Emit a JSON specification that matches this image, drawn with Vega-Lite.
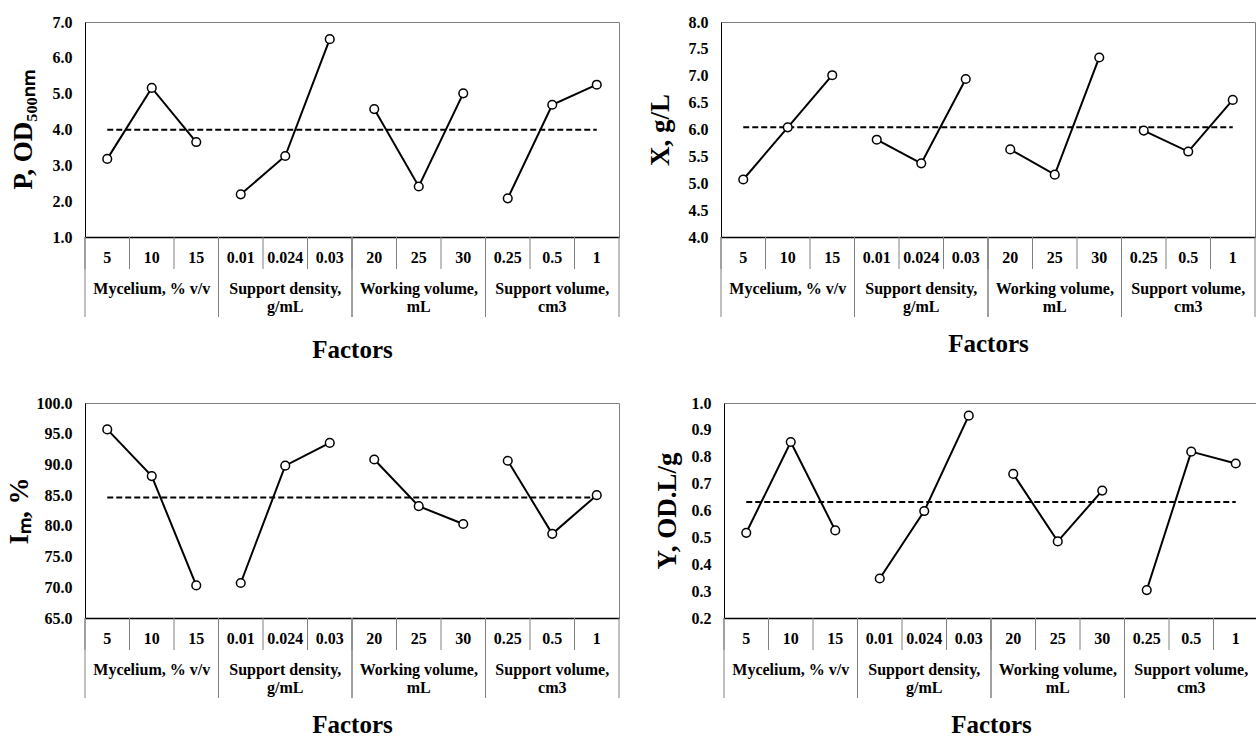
{
 "$schema": "https://vega.github.io/schema/vega-lite/v6.json",
 "padding": {"left": 4, "top": 13, "right": 0, "bottom": 0},
 "background": "white",
 "config": {
  "view": {"stroke": "#7f7f7f", "strokeWidth": 1},
  "axis": {"labelFont": "Liberation Serif", "labelFontSize": 16, "labelFontWeight": "bold", "labelColor": "black", "titleFont": "Liberation Serif", "titleFontWeight": "bold", "titleColor": "black", "grid": false, "ticks": false}
 },
 "datasets": {
  "pts": [
   {"panel": "P", "group": "Mycelium", "level": "5", "value": 3.18},
   {"panel": "P", "group": "Mycelium", "level": "10", "value": 5.16},
   {"panel": "P", "group": "Mycelium", "level": "15", "value": 3.65},
   {"panel": "P", "group": "Density", "level": "0.01", "value": 2.19},
   {"panel": "P", "group": "Density", "level": "0.024", "value": 3.26},
   {"panel": "P", "group": "Density", "level": "0.03", "value": 6.52},
   {"panel": "P", "group": "Working", "level": "20", "value": 4.57},
   {"panel": "P", "group": "Working", "level": "25", "value": 2.41},
   {"panel": "P", "group": "Working", "level": "30", "value": 5.01},
   {"panel": "P", "group": "Support", "level": "0.25", "value": 2.08},
   {"panel": "P", "group": "Support", "level": "0.5", "value": 4.69},
   {"panel": "P", "group": "Support", "level": "1", "value": 5.25},
   {"panel": "X", "group": "Mycelium", "level": "5", "value": 5.07},
   {"panel": "X", "group": "Mycelium", "level": "10", "value": 6.04},
   {"panel": "X", "group": "Mycelium", "level": "15", "value": 7.01},
   {"panel": "X", "group": "Density", "level": "0.01", "value": 5.81},
   {"panel": "X", "group": "Density", "level": "0.024", "value": 5.37},
   {"panel": "X", "group": "Density", "level": "0.03", "value": 6.94},
   {"panel": "X", "group": "Working", "level": "20", "value": 5.63},
   {"panel": "X", "group": "Working", "level": "25", "value": 5.16},
   {"panel": "X", "group": "Working", "level": "30", "value": 7.34},
   {"panel": "X", "group": "Support", "level": "0.25", "value": 5.98},
   {"panel": "X", "group": "Support", "level": "0.5", "value": 5.59},
   {"panel": "X", "group": "Support", "level": "1", "value": 6.55},
   {"panel": "I", "group": "Mycelium", "level": "5", "value": 95.7},
   {"panel": "I", "group": "Mycelium", "level": "10", "value": 88.1},
   {"panel": "I", "group": "Mycelium", "level": "15", "value": 70.3},
   {"panel": "I", "group": "Density", "level": "0.01", "value": 70.7},
   {"panel": "I", "group": "Density", "level": "0.024", "value": 89.8},
   {"panel": "I", "group": "Density", "level": "0.03", "value": 93.5},
   {"panel": "I", "group": "Working", "level": "20", "value": 90.8},
   {"panel": "I", "group": "Working", "level": "25", "value": 83.2},
   {"panel": "I", "group": "Working", "level": "30", "value": 80.3},
   {"panel": "I", "group": "Support", "level": "0.25", "value": 90.6},
   {"panel": "I", "group": "Support", "level": "0.5", "value": 78.7},
   {"panel": "I", "group": "Support", "level": "1", "value": 85.0},
   {"panel": "Y", "group": "Mycelium", "level": "5", "value": 0.517},
   {"panel": "Y", "group": "Mycelium", "level": "10", "value": 0.855},
   {"panel": "Y", "group": "Mycelium", "level": "15", "value": 0.526},
   {"panel": "Y", "group": "Density", "level": "0.01", "value": 0.347},
   {"panel": "Y", "group": "Density", "level": "0.024", "value": 0.598},
   {"panel": "Y", "group": "Density", "level": "0.03", "value": 0.953},
   {"panel": "Y", "group": "Working", "level": "20", "value": 0.736},
   {"panel": "Y", "group": "Working", "level": "25", "value": 0.485},
   {"panel": "Y", "group": "Working", "level": "30", "value": 0.674},
   {"panel": "Y", "group": "Support", "level": "0.25", "value": 0.304},
   {"panel": "Y", "group": "Support", "level": "0.5", "value": 0.819},
   {"panel": "Y", "group": "Support", "level": "1", "value": 0.775}
  ],
  "means": [
   {"panel": "P", "level": "5", "value": 3.99}, {"panel": "P", "level": "1", "value": 3.99},
   {"panel": "X", "level": "5", "value": 6.04}, {"panel": "X", "level": "1", "value": 6.04},
   {"panel": "I", "level": "5", "value": 84.6}, {"panel": "I", "level": "1", "value": 84.6},
   {"panel": "Y", "level": "5", "value": 0.632}, {"panel": "Y", "level": "1", "value": 0.632}
  ],
  "levels": [
   {"level": "5"}, {"level": "10"}, {"level": "15"}, {"level": "0.01"}, {"level": "0.024"}, {"level": "0.03"},
   {"level": "20"}, {"level": "25"}, {"level": "30"}, {"level": "0.25"}, {"level": "0.5"}, {"level": "1"}
  ],
  "groups": [
   {"first": "5", "mid": "10", "last": "15", "label": ["Mycelium, % v/v"]},
   {"first": "0.01", "mid": "0.024", "last": "0.03", "label": ["Support density,", "g/mL"]},
   {"first": "20", "mid": "25", "last": "30", "label": ["Working volume,", "mL"]},
   {"first": "0.25", "mid": "0.5", "last": "1", "label": ["Support volume,", "cm3"]}
  ]
 },
 "columns": 1,
 "align": "none",
 "spacing": 32,
 "concat": [
  {"hconcat": [
   {"vconcat": [
    {"width": 534, "height": 215,
     "layer": [
      {"data": {"name": "means"}, "transform": [{"filter": "datum.panel === 'P'"}],
       "mark": {"type": "line", "color": "black", "strokeWidth": 2, "strokeDash": [6, 3]},
       "encoding": {
        "x": {"field": "level", "type": "nominal", "scale": {"type": "band", "domain": ["5","10","15","0.01","0.024","0.03","20","25","30","0.25","0.5","1"], "paddingInner": 0, "paddingOuter": 0}, "axis": {"labels": false, "ticks": false, "title": null, "domainColor": "black", "domainWidth": 1.5}},
        "y": {"field": "value", "type": "quantitative", "scale": {"domain": [1, 7], "nice": false, "zero": false}, "axis": {"values": [1,2,3,4,5,6,7], "format": ".1f", "title": "P, OD₅₀₀ₙₘ", "titleFontSize": 27, "titlePadding": 15, "labelPadding": 13, "domainColor": "black"}},
        "order": {"value": null}}},
      {"data": {"name": "pts"}, "transform": [{"filter": "datum.panel === 'P'"}],
       "mark": {"type": "line", "color": "black", "strokeWidth": 2},
       "encoding": {
        "x": {"field": "level", "type": "nominal", "scale": {"type": "band", "domain": ["5","10","15","0.01","0.024","0.03","20","25","30","0.25","0.5","1"], "paddingInner": 0, "paddingOuter": 0}, "axis": {"labels": false, "ticks": false, "title": null, "domainColor": "black", "domainWidth": 1.5}},
        "y": {"field": "value", "type": "quantitative", "scale": {"domain": [1, 7], "nice": false, "zero": false}, "axis": {"values": [1,2,3,4,5,6,7], "format": ".1f", "title": "P, OD₅₀₀ₙₘ", "titleFontSize": 27, "titlePadding": 15, "labelPadding": 13, "domainColor": "black"}},
        "detail": {"field": "group"}, "order": {"value": null}}},
      {"data": {"name": "pts"}, "transform": [{"filter": "datum.panel === 'P'"}],
       "mark": {"type": "point", "shape": "circle", "filled": true, "fill": "white", "stroke": "black", "strokeWidth": 1.5, "size": 75, "opacity": 1},
       "encoding": {
        "x": {"field": "level", "type": "nominal", "scale": {"type": "band", "domain": ["5","10","15","0.01","0.024","0.03","20","25","30","0.25","0.5","1"], "paddingInner": 0, "paddingOuter": 0}, "axis": {"labels": false, "ticks": false, "title": null, "domainColor": "black", "domainWidth": 1.5}},
        "y": {"field": "value", "type": "quantitative", "scale": {"domain": [1, 7], "nice": false, "zero": false}, "axis": {"values": [1,2,3,4,5,6,7], "format": ".1f", "title": "P, OD₅₀₀ₙₘ", "titleFontSize": 27, "titlePadding": 15, "labelPadding": 13, "domainColor": "black"}}}}
     ]},
    {"width": 534, "height": 80, "view": {"stroke": null},
     "layer": [
      {"data": {"name": "levels"}, "mark": {"type": "rule", "color": "#808080", "strokeWidth": 1},
       "encoding": {
        "x": {"field": "level", "type": "nominal", "bandPosition": 0, "scale": {"type": "band", "domain": ["5","10","15","0.01","0.024","0.03","20","25","30","0.25","0.5","1"], "paddingInner": 0, "paddingOuter": 0}, "axis": {"labels": false, "ticks": false, "domain": false, "title": "Factors", "titleFontSize": 25, "titlePadding": 20}},
        "y": {"datum": 0, "type": "quantitative", "scale": {"domain": [0, 2.5], "reverse": true, "nice": false, "zero": false}, "axis": null},
        "y2": {"datum": 1}}},
      {"data": {"name": "groups"}, "mark": {"type": "rule", "color": "#808080", "strokeWidth": 1},
       "encoding": {
        "x": {"field": "first", "type": "nominal", "bandPosition": 0, "scale": {"type": "band", "domain": ["5","10","15","0.01","0.024","0.03","20","25","30","0.25","0.5","1"], "paddingInner": 0, "paddingOuter": 0}, "axis": {"labels": false, "ticks": false, "domain": false, "title": "Factors", "titleFontSize": 25, "titlePadding": 20}},
        "y": {"datum": 0, "type": "quantitative", "scale": {"domain": [0, 2.5], "reverse": true, "nice": false, "zero": false}, "axis": null},
        "y2": {"datum": 2.5}}},
      {"data": {"name": "groups"}, "mark": {"type": "rule", "color": "#808080", "strokeWidth": 1},
       "encoding": {
        "x": {"field": "last", "type": "nominal", "bandPosition": 1, "scale": {"type": "band", "domain": ["5","10","15","0.01","0.024","0.03","20","25","30","0.25","0.5","1"], "paddingInner": 0, "paddingOuter": 0}, "axis": {"labels": false, "ticks": false, "domain": false, "title": "Factors", "titleFontSize": 25, "titlePadding": 20}},
        "y": {"datum": 0, "type": "quantitative", "scale": {"domain": [0, 2.5], "reverse": true, "nice": false, "zero": false}, "axis": null},
        "y2": {"datum": 2.5}}},
      {"data": {"name": "levels"}, "mark": {"type": "text", "font": "Liberation Serif", "fontSize": 16, "fontWeight": "bold", "color": "black", "baseline": "middle"},
       "encoding": {
        "x": {"field": "level", "type": "nominal", "scale": {"type": "band", "domain": ["5","10","15","0.01","0.024","0.03","20","25","30","0.25","0.5","1"], "paddingInner": 0, "paddingOuter": 0}, "axis": {"labels": false, "ticks": false, "domain": false, "title": "Factors", "titleFontSize": 25, "titlePadding": 20}},
        "y": {"datum": 0.66, "type": "quantitative", "scale": {"domain": [0, 2.5], "reverse": true, "nice": false, "zero": false}, "axis": null},
        "text": {"field": "level"}}},
      {"data": {"name": "groups"}, "mark": {"type": "text", "font": "Liberation Serif", "fontSize": 16, "fontWeight": "bold", "color": "black", "baseline": "top", "lineHeight": 18},
       "encoding": {
        "x": {"field": "mid", "type": "nominal", "scale": {"type": "band", "domain": ["5","10","15","0.01","0.024","0.03","20","25","30","0.25","0.5","1"], "paddingInner": 0, "paddingOuter": 0}, "axis": {"labels": false, "ticks": false, "domain": false, "title": "Factors", "titleFontSize": 25, "titlePadding": 20}},
        "y": {"datum": 1.375, "type": "quantitative", "scale": {"domain": [0, 2.5], "reverse": true, "nice": false, "zero": false}, "axis": null},
        "text": {"field": "label"}}}
     ]}
   ], "spacing": 0, "bounds": "flush"},
   {"vconcat": [
    {"width": 534, "height": 215,
     "layer": [
      {"data": {"name": "means"}, "transform": [{"filter": "datum.panel === 'X'"}],
       "mark": {"type": "line", "color": "black", "strokeWidth": 2, "strokeDash": [6, 3]},
       "encoding": {
        "x": {"field": "level", "type": "nominal", "scale": {"type": "band", "domain": ["5","10","15","0.01","0.024","0.03","20","25","30","0.25","0.5","1"], "paddingInner": 0, "paddingOuter": 0}, "axis": {"labels": false, "ticks": false, "title": null, "domainColor": "black", "domainWidth": 1.5}},
        "y": {"field": "value", "type": "quantitative", "scale": {"domain": [4, 8], "nice": false, "zero": false}, "axis": {"values": [4,4.5,5,5.5,6,6.5,7,7.5,8], "format": ".1f", "title": "X, g/L", "titleFontSize": 27, "titlePadding": 14, "labelPadding": 13, "domainColor": "black"}},
        "order": {"value": null}}},
      {"data": {"name": "pts"}, "transform": [{"filter": "datum.panel === 'X'"}],
       "mark": {"type": "line", "color": "black", "strokeWidth": 2},
       "encoding": {
        "x": {"field": "level", "type": "nominal", "scale": {"type": "band", "domain": ["5","10","15","0.01","0.024","0.03","20","25","30","0.25","0.5","1"], "paddingInner": 0, "paddingOuter": 0}, "axis": {"labels": false, "ticks": false, "title": null, "domainColor": "black", "domainWidth": 1.5}},
        "y": {"field": "value", "type": "quantitative", "scale": {"domain": [4, 8], "nice": false, "zero": false}, "axis": {"values": [4,4.5,5,5.5,6,6.5,7,7.5,8], "format": ".1f", "title": "X, g/L", "titleFontSize": 27, "titlePadding": 14, "labelPadding": 13, "domainColor": "black"}},
        "detail": {"field": "group"}, "order": {"value": null}}},
      {"data": {"name": "pts"}, "transform": [{"filter": "datum.panel === 'X'"}],
       "mark": {"type": "point", "shape": "circle", "filled": true, "fill": "white", "stroke": "black", "strokeWidth": 1.5, "size": 75, "opacity": 1},
       "encoding": {
        "x": {"field": "level", "type": "nominal", "scale": {"type": "band", "domain": ["5","10","15","0.01","0.024","0.03","20","25","30","0.25","0.5","1"], "paddingInner": 0, "paddingOuter": 0}, "axis": {"labels": false, "ticks": false, "title": null, "domainColor": "black", "domainWidth": 1.5}},
        "y": {"field": "value", "type": "quantitative", "scale": {"domain": [4, 8], "nice": false, "zero": false}, "axis": {"values": [4,4.5,5,5.5,6,6.5,7,7.5,8], "format": ".1f", "title": "X, g/L", "titleFontSize": 27, "titlePadding": 14, "labelPadding": 13, "domainColor": "black"}}}}
     ]},
    {"width": 534, "height": 80, "view": {"stroke": null},
     "layer": [
      {"data": {"name": "levels"}, "mark": {"type": "rule", "color": "#808080", "strokeWidth": 1},
       "encoding": {
        "x": {"field": "level", "type": "nominal", "bandPosition": 0, "scale": {"type": "band", "domain": ["5","10","15","0.01","0.024","0.03","20","25","30","0.25","0.5","1"], "paddingInner": 0, "paddingOuter": 0}, "axis": {"labels": false, "ticks": false, "domain": false, "title": "Factors", "titleFontSize": 25, "titlePadding": 14}},
        "y": {"datum": 0, "type": "quantitative", "scale": {"domain": [0, 2.5], "reverse": true, "nice": false, "zero": false}, "axis": null},
        "y2": {"datum": 1}}},
      {"data": {"name": "groups"}, "mark": {"type": "rule", "color": "#808080", "strokeWidth": 1},
       "encoding": {
        "x": {"field": "first", "type": "nominal", "bandPosition": 0, "scale": {"type": "band", "domain": ["5","10","15","0.01","0.024","0.03","20","25","30","0.25","0.5","1"], "paddingInner": 0, "paddingOuter": 0}, "axis": {"labels": false, "ticks": false, "domain": false, "title": "Factors", "titleFontSize": 25, "titlePadding": 14}},
        "y": {"datum": 0, "type": "quantitative", "scale": {"domain": [0, 2.5], "reverse": true, "nice": false, "zero": false}, "axis": null},
        "y2": {"datum": 2.5}}},
      {"data": {"name": "groups"}, "mark": {"type": "rule", "color": "#808080", "strokeWidth": 1},
       "encoding": {
        "x": {"field": "last", "type": "nominal", "bandPosition": 1, "scale": {"type": "band", "domain": ["5","10","15","0.01","0.024","0.03","20","25","30","0.25","0.5","1"], "paddingInner": 0, "paddingOuter": 0}, "axis": {"labels": false, "ticks": false, "domain": false, "title": "Factors", "titleFontSize": 25, "titlePadding": 14}},
        "y": {"datum": 0, "type": "quantitative", "scale": {"domain": [0, 2.5], "reverse": true, "nice": false, "zero": false}, "axis": null},
        "y2": {"datum": 2.5}}},
      {"data": {"name": "levels"}, "mark": {"type": "text", "font": "Liberation Serif", "fontSize": 16, "fontWeight": "bold", "color": "black", "baseline": "middle"},
       "encoding": {
        "x": {"field": "level", "type": "nominal", "scale": {"type": "band", "domain": ["5","10","15","0.01","0.024","0.03","20","25","30","0.25","0.5","1"], "paddingInner": 0, "paddingOuter": 0}, "axis": {"labels": false, "ticks": false, "domain": false, "title": "Factors", "titleFontSize": 25, "titlePadding": 14}},
        "y": {"datum": 0.66, "type": "quantitative", "scale": {"domain": [0, 2.5], "reverse": true, "nice": false, "zero": false}, "axis": null},
        "text": {"field": "level"}}},
      {"data": {"name": "groups"}, "mark": {"type": "text", "font": "Liberation Serif", "fontSize": 16, "fontWeight": "bold", "color": "black", "baseline": "top", "lineHeight": 18},
       "encoding": {
        "x": {"field": "mid", "type": "nominal", "scale": {"type": "band", "domain": ["5","10","15","0.01","0.024","0.03","20","25","30","0.25","0.5","1"], "paddingInner": 0, "paddingOuter": 0}, "axis": {"labels": false, "ticks": false, "domain": false, "title": "Factors", "titleFontSize": 25, "titlePadding": 14}},
        "y": {"datum": 1.375, "type": "quantitative", "scale": {"domain": [0, 2.5], "reverse": true, "nice": false, "zero": false}, "axis": null},
        "text": {"field": "label"}}}
     ]}
   ], "spacing": 0, "bounds": "flush"}
  ], "spacing": 25},
  {"hconcat": [
   {"vconcat": [
    {"width": 534, "height": 215,
     "layer": [
      {"data": {"name": "means"}, "transform": [{"filter": "datum.panel === 'I'"}],
       "mark": {"type": "line", "color": "black", "strokeWidth": 2, "strokeDash": [6, 3]},
       "encoding": {
        "x": {"field": "level", "type": "nominal", "scale": {"type": "band", "domain": ["5","10","15","0.01","0.024","0.03","20","25","30","0.25","0.5","1"], "paddingInner": 0, "paddingOuter": 0}, "axis": {"labels": false, "ticks": false, "title": null, "domainColor": "black", "domainWidth": 1.5}},
        "y": {"field": "value", "type": "quantitative", "scale": {"domain": [65, 100], "nice": false, "zero": false}, "axis": {"values": [65,70,75,80,85,90,95,100], "format": ".1f", "title": "Iₘ, %", "titleFontSize": 27, "titlePadding": 3, "labelPadding": 13, "domainColor": "black"}},
        "order": {"value": null}}},
      {"data": {"name": "pts"}, "transform": [{"filter": "datum.panel === 'I'"}],
       "mark": {"type": "line", "color": "black", "strokeWidth": 2},
       "encoding": {
        "x": {"field": "level", "type": "nominal", "scale": {"type": "band", "domain": ["5","10","15","0.01","0.024","0.03","20","25","30","0.25","0.5","1"], "paddingInner": 0, "paddingOuter": 0}, "axis": {"labels": false, "ticks": false, "title": null, "domainColor": "black", "domainWidth": 1.5}},
        "y": {"field": "value", "type": "quantitative", "scale": {"domain": [65, 100], "nice": false, "zero": false}, "axis": {"values": [65,70,75,80,85,90,95,100], "format": ".1f", "title": "Iₘ, %", "titleFontSize": 27, "titlePadding": 3, "labelPadding": 13, "domainColor": "black"}},
        "detail": {"field": "group"}, "order": {"value": null}}},
      {"data": {"name": "pts"}, "transform": [{"filter": "datum.panel === 'I'"}],
       "mark": {"type": "point", "shape": "circle", "filled": true, "fill": "white", "stroke": "black", "strokeWidth": 1.5, "size": 75, "opacity": 1},
       "encoding": {
        "x": {"field": "level", "type": "nominal", "scale": {"type": "band", "domain": ["5","10","15","0.01","0.024","0.03","20","25","30","0.25","0.5","1"], "paddingInner": 0, "paddingOuter": 0}, "axis": {"labels": false, "ticks": false, "title": null, "domainColor": "black", "domainWidth": 1.5}},
        "y": {"field": "value", "type": "quantitative", "scale": {"domain": [65, 100], "nice": false, "zero": false}, "axis": {"values": [65,70,75,80,85,90,95,100], "format": ".1f", "title": "Iₘ, %", "titleFontSize": 27, "titlePadding": 3, "labelPadding": 13, "domainColor": "black"}}}}
     ]},
    {"width": 534, "height": 80, "view": {"stroke": null},
     "layer": [
      {"data": {"name": "levels"}, "mark": {"type": "rule", "color": "#808080", "strokeWidth": 1},
       "encoding": {
        "x": {"field": "level", "type": "nominal", "bandPosition": 0, "scale": {"type": "band", "domain": ["5","10","15","0.01","0.024","0.03","20","25","30","0.25","0.5","1"], "paddingInner": 0, "paddingOuter": 0}, "axis": {"labels": false, "ticks": false, "domain": false, "title": "Factors", "titleFontSize": 25, "titlePadding": 14}},
        "y": {"datum": 0, "type": "quantitative", "scale": {"domain": [0, 2.5], "reverse": true, "nice": false, "zero": false}, "axis": null},
        "y2": {"datum": 1}}},
      {"data": {"name": "groups"}, "mark": {"type": "rule", "color": "#808080", "strokeWidth": 1},
       "encoding": {
        "x": {"field": "first", "type": "nominal", "bandPosition": 0, "scale": {"type": "band", "domain": ["5","10","15","0.01","0.024","0.03","20","25","30","0.25","0.5","1"], "paddingInner": 0, "paddingOuter": 0}, "axis": {"labels": false, "ticks": false, "domain": false, "title": "Factors", "titleFontSize": 25, "titlePadding": 14}},
        "y": {"datum": 0, "type": "quantitative", "scale": {"domain": [0, 2.5], "reverse": true, "nice": false, "zero": false}, "axis": null},
        "y2": {"datum": 2.5}}},
      {"data": {"name": "groups"}, "mark": {"type": "rule", "color": "#808080", "strokeWidth": 1},
       "encoding": {
        "x": {"field": "last", "type": "nominal", "bandPosition": 1, "scale": {"type": "band", "domain": ["5","10","15","0.01","0.024","0.03","20","25","30","0.25","0.5","1"], "paddingInner": 0, "paddingOuter": 0}, "axis": {"labels": false, "ticks": false, "domain": false, "title": "Factors", "titleFontSize": 25, "titlePadding": 14}},
        "y": {"datum": 0, "type": "quantitative", "scale": {"domain": [0, 2.5], "reverse": true, "nice": false, "zero": false}, "axis": null},
        "y2": {"datum": 2.5}}},
      {"data": {"name": "levels"}, "mark": {"type": "text", "font": "Liberation Serif", "fontSize": 16, "fontWeight": "bold", "color": "black", "baseline": "middle"},
       "encoding": {
        "x": {"field": "level", "type": "nominal", "scale": {"type": "band", "domain": ["5","10","15","0.01","0.024","0.03","20","25","30","0.25","0.5","1"], "paddingInner": 0, "paddingOuter": 0}, "axis": {"labels": false, "ticks": false, "domain": false, "title": "Factors", "titleFontSize": 25, "titlePadding": 14}},
        "y": {"datum": 0.66, "type": "quantitative", "scale": {"domain": [0, 2.5], "reverse": true, "nice": false, "zero": false}, "axis": null},
        "text": {"field": "level"}}},
      {"data": {"name": "groups"}, "mark": {"type": "text", "font": "Liberation Serif", "fontSize": 16, "fontWeight": "bold", "color": "black", "baseline": "top", "lineHeight": 18},
       "encoding": {
        "x": {"field": "mid", "type": "nominal", "scale": {"type": "band", "domain": ["5","10","15","0.01","0.024","0.03","20","25","30","0.25","0.5","1"], "paddingInner": 0, "paddingOuter": 0}, "axis": {"labels": false, "ticks": false, "domain": false, "title": "Factors", "titleFontSize": 25, "titlePadding": 14}},
        "y": {"datum": 1.375, "type": "quantitative", "scale": {"domain": [0, 2.5], "reverse": true, "nice": false, "zero": false}, "axis": null},
        "text": {"field": "label"}}}
     ]}
   ], "spacing": 0, "bounds": "flush"},
   {"vconcat": [
    {"width": 534, "height": 215,
     "layer": [
      {"data": {"name": "means"}, "transform": [{"filter": "datum.panel === 'Y'"}],
       "mark": {"type": "line", "color": "black", "strokeWidth": 2, "strokeDash": [6, 3]},
       "encoding": {
        "x": {"field": "level", "type": "nominal", "scale": {"type": "band", "domain": ["5","10","15","0.01","0.024","0.03","20","25","30","0.25","0.5","1"], "paddingInner": 0, "paddingOuter": 0}, "axis": {"labels": false, "ticks": false, "title": null, "domainColor": "black", "domainWidth": 1.5}},
        "y": {"field": "value", "type": "quantitative", "scale": {"domain": [0.2, 1.0], "nice": false, "zero": false}, "axis": {"values": [0.2,0.3,0.4,0.5,0.6,0.7,0.8,0.9,1.0], "format": ".1f", "title": "Y, OD.L/g", "titleFontSize": 27, "titlePadding": 10, "labelPadding": 13, "domainColor": "black"}},
        "order": {"value": null}}},
      {"data": {"name": "pts"}, "transform": [{"filter": "datum.panel === 'Y'"}],
       "mark": {"type": "line", "color": "black", "strokeWidth": 2},
       "encoding": {
        "x": {"field": "level", "type": "nominal", "scale": {"type": "band", "domain": ["5","10","15","0.01","0.024","0.03","20","25","30","0.25","0.5","1"], "paddingInner": 0, "paddingOuter": 0}, "axis": {"labels": false, "ticks": false, "title": null, "domainColor": "black", "domainWidth": 1.5}},
        "y": {"field": "value", "type": "quantitative", "scale": {"domain": [0.2, 1.0], "nice": false, "zero": false}, "axis": {"values": [0.2,0.3,0.4,0.5,0.6,0.7,0.8,0.9,1.0], "format": ".1f", "title": "Y, OD.L/g", "titleFontSize": 27, "titlePadding": 10, "labelPadding": 13, "domainColor": "black"}},
        "detail": {"field": "group"}, "order": {"value": null}}},
      {"data": {"name": "pts"}, "transform": [{"filter": "datum.panel === 'Y'"}],
       "mark": {"type": "point", "shape": "circle", "filled": true, "fill": "white", "stroke": "black", "strokeWidth": 1.5, "size": 75, "opacity": 1},
       "encoding": {
        "x": {"field": "level", "type": "nominal", "scale": {"type": "band", "domain": ["5","10","15","0.01","0.024","0.03","20","25","30","0.25","0.5","1"], "paddingInner": 0, "paddingOuter": 0}, "axis": {"labels": false, "ticks": false, "title": null, "domainColor": "black", "domainWidth": 1.5}},
        "y": {"field": "value", "type": "quantitative", "scale": {"domain": [0.2, 1.0], "nice": false, "zero": false}, "axis": {"values": [0.2,0.3,0.4,0.5,0.6,0.7,0.8,0.9,1.0], "format": ".1f", "title": "Y, OD.L/g", "titleFontSize": 27, "titlePadding": 10, "labelPadding": 13, "domainColor": "black"}}}}
     ]},
    {"width": 534, "height": 80, "view": {"stroke": null},
     "layer": [
      {"data": {"name": "levels"}, "mark": {"type": "rule", "color": "#808080", "strokeWidth": 1},
       "encoding": {
        "x": {"field": "level", "type": "nominal", "bandPosition": 0, "scale": {"type": "band", "domain": ["5","10","15","0.01","0.024","0.03","20","25","30","0.25","0.5","1"], "paddingInner": 0, "paddingOuter": 0}, "axis": {"labels": false, "ticks": false, "domain": false, "title": "Factors", "titleFontSize": 25, "titlePadding": 14}},
        "y": {"datum": 0, "type": "quantitative", "scale": {"domain": [0, 2.5], "reverse": true, "nice": false, "zero": false}, "axis": null},
        "y2": {"datum": 1}}},
      {"data": {"name": "groups"}, "mark": {"type": "rule", "color": "#808080", "strokeWidth": 1},
       "encoding": {
        "x": {"field": "first", "type": "nominal", "bandPosition": 0, "scale": {"type": "band", "domain": ["5","10","15","0.01","0.024","0.03","20","25","30","0.25","0.5","1"], "paddingInner": 0, "paddingOuter": 0}, "axis": {"labels": false, "ticks": false, "domain": false, "title": "Factors", "titleFontSize": 25, "titlePadding": 14}},
        "y": {"datum": 0, "type": "quantitative", "scale": {"domain": [0, 2.5], "reverse": true, "nice": false, "zero": false}, "axis": null},
        "y2": {"datum": 2.5}}},
      {"data": {"name": "groups"}, "mark": {"type": "rule", "color": "#808080", "strokeWidth": 1},
       "encoding": {
        "x": {"field": "last", "type": "nominal", "bandPosition": 1, "scale": {"type": "band", "domain": ["5","10","15","0.01","0.024","0.03","20","25","30","0.25","0.5","1"], "paddingInner": 0, "paddingOuter": 0}, "axis": {"labels": false, "ticks": false, "domain": false, "title": "Factors", "titleFontSize": 25, "titlePadding": 14}},
        "y": {"datum": 0, "type": "quantitative", "scale": {"domain": [0, 2.5], "reverse": true, "nice": false, "zero": false}, "axis": null},
        "y2": {"datum": 2.5}}},
      {"data": {"name": "levels"}, "mark": {"type": "text", "font": "Liberation Serif", "fontSize": 16, "fontWeight": "bold", "color": "black", "baseline": "middle"},
       "encoding": {
        "x": {"field": "level", "type": "nominal", "scale": {"type": "band", "domain": ["5","10","15","0.01","0.024","0.03","20","25","30","0.25","0.5","1"], "paddingInner": 0, "paddingOuter": 0}, "axis": {"labels": false, "ticks": false, "domain": false, "title": "Factors", "titleFontSize": 25, "titlePadding": 14}},
        "y": {"datum": 0.66, "type": "quantitative", "scale": {"domain": [0, 2.5], "reverse": true, "nice": false, "zero": false}, "axis": null},
        "text": {"field": "level"}}},
      {"data": {"name": "groups"}, "mark": {"type": "text", "font": "Liberation Serif", "fontSize": 16, "fontWeight": "bold", "color": "black", "baseline": "top", "lineHeight": 18},
       "encoding": {
        "x": {"field": "mid", "type": "nominal", "scale": {"type": "band", "domain": ["5","10","15","0.01","0.024","0.03","20","25","30","0.25","0.5","1"], "paddingInner": 0, "paddingOuter": 0}, "axis": {"labels": false, "ticks": false, "domain": false, "title": "Factors", "titleFontSize": 25, "titlePadding": 14}},
        "y": {"datum": 1.375, "type": "quantitative", "scale": {"domain": [0, 2.5], "reverse": true, "nice": false, "zero": false}, "axis": null},
        "text": {"field": "label"}}}
     ]}
   ], "spacing": 0, "bounds": "flush"}
  ], "spacing": 32}
 ]
}
